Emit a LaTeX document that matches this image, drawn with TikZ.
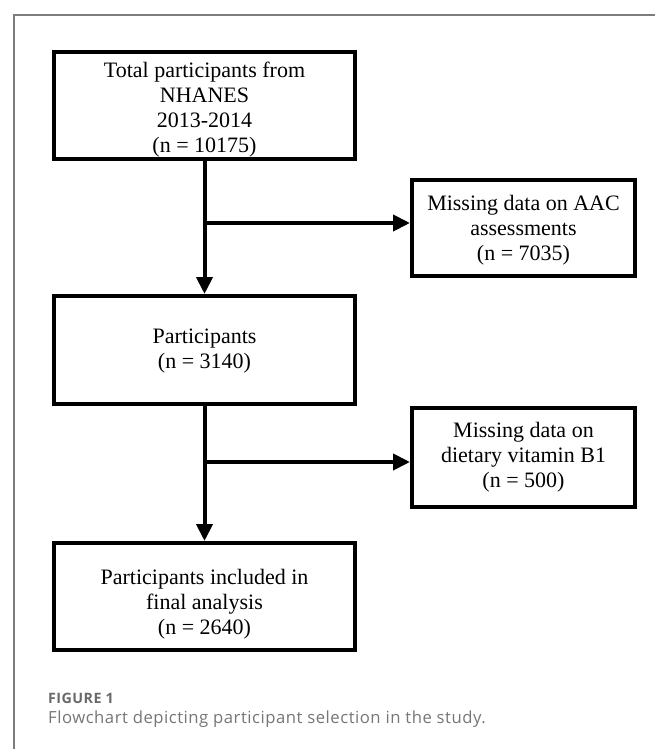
\documentclass[tikz,border=0pt]{standalone}
\usepackage{fontspec}
\setmainfont{Liberation Serif}
\newfontfamily\capfont[LetterSpace=3]{Open Sans}
\usetikzlibrary{arrows.meta}
\definecolor{framegray}{RGB}{125,125,125}
\definecolor{capgray}{RGB}{105,105,105}
\definecolor{captext}{RGB}{118,118,118}
\begin{document}
\begin{tikzpicture}[x=1pt,y=1pt,
  flowbox/.style={draw=black, line width=4pt, inner sep=0pt},
  leftbox/.style={flowbox, minimum width=301pt},
  rightbox/.style={flowbox, minimum width=223pt},
  boxtext/.style={align=center, inner sep=0pt, font=\fontsize{22}{25}\selectfont},
  flowarrow/.style={draw=black, line width=4pt, -{Triangle[length=17pt,width=16pt]}},
  frameline/.style={draw=framegray, line width=1.3pt},
  capnum/.style={anchor=base west, inner sep=0pt, text=capgray,
    font=\capfont\bfseries\fontsize{14.3}{16}\selectfont},
  captxt/.style={anchor=base west, inner sep=0pt, text=captext,
    font=\capfont\fontsize{16.7}{19}\selectfont}
]
\useasboundingbox (0,0) rectangle (655,-749);
% frame
\draw[frameline] (14,-749) -- (14,-15) -- (655,-15);
% boxes
\node[leftbox, minimum height=107pt] (b1) at (204.5,-105.5) {};
\node[rightbox, minimum height=96pt] (b2) at (523.5,-228) {};
\node[leftbox, minimum height=108pt] (b3) at (204.5,-350) {};
\node[rightbox, minimum height=99pt] (b4) at (523.5,-457.5) {};
\node[leftbox, minimum height=107pt] (b5) at (204.5,-596.5) {};
% box texts
\node[boxtext] (t1) at ([yshift=-4pt]b1.center)
  {Total participants from\\NHANES\\2013-2014\\(n = 10175)};
\node[boxtext] (t2) at ([yshift=-2pt]b2.center)
  {Missing data on AAC\\assessments\\(n = 7035)};
\node[boxtext] (t3) at ([yshift=-1pt]b3.center)
  {Participants\\(n = 3140)};
\node[boxtext] (t4) at (b4.center)
  {Missing data on\\dietary vitamin B1\\(n = 500)};
\node[boxtext] (t5) at ([yshift=-8pt]b5.center)
  {Participants included in\\final analysis\\(n = 2640)};
% connectors
\coordinate (j1) at (204.5,-223);
\coordinate (j2) at (204.5,-462);
\draw[flowarrow] (b1.south) -- (b3.north);
\draw[flowarrow] (j1) -- (j1 -| b2.west);
\draw[flowarrow] (b3.south) -- (b5.north);
\draw[flowarrow] (j2) -- (j2 -| b4.west);
% caption
\node[capnum] (fig) at (48,-703) {FIGURE 1};
\node[captxt] (cap) at (48,-723) {Flowchart depicting participant selection in the study.};
\end{tikzpicture}
\end{document}
